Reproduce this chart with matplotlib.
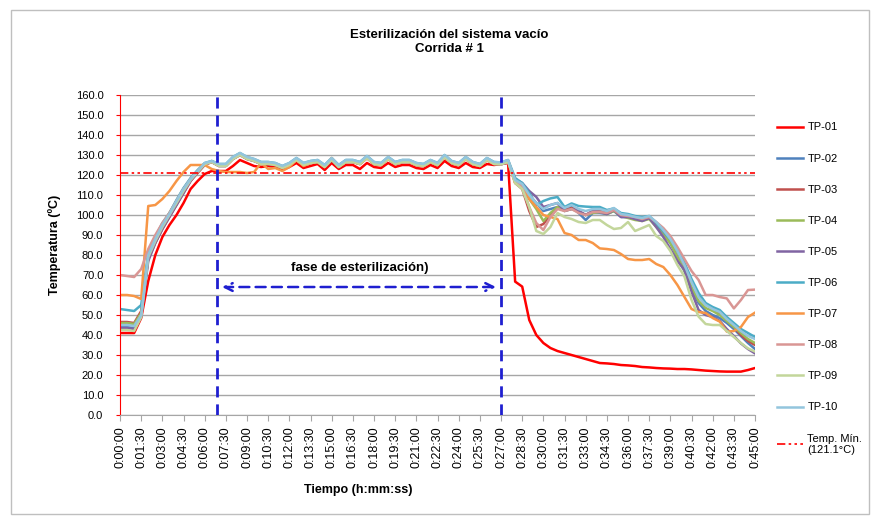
import matplotlib
matplotlib.use('Agg')
import matplotlib.pyplot as plt
import numpy as np
from matplotlib.patches import Rectangle

plt.rcParams['font.family'] = ['Liberation Sans', 'DejaVu Sans']

# tiempo de muestreo: cada 30 s, de 0:00:00 a 0:45:00
tiempo_s = np.arange(0, 2701, 30)

tick_labels = ['0:00:00', '0:01:30', '0:03:00', '0:04:30', '0:06:00', '0:07:30',
               '0:09:00', '0:10:30', '0:12:00', '0:13:30', '0:15:00', '0:16:30',
               '0:18:00', '0:19:30', '0:21:00', '0:22:30', '0:24:00', '0:25:30',
               '0:27:00', '0:28:30', '0:30:00', '0:31:30', '0:33:00', '0:34:30',
               '0:36:00', '0:37:30', '0:39:00', '0:40:30', '0:42:00', '0:43:30',
               '0:45:00']

tp01 = [41, 41, 41, 48.5, 67, 80, 89, 95, 100, 106, 113, 117, 120.5, 122,
        122, 122, 124.5, 127.5, 126, 124.5, 124, 124.5, 124, 122.5, 124, 126, 123.5, 124.5, 125.5, 122.5,
        126, 123, 125, 125, 123, 126, 124, 123.5, 126, 124, 125, 125, 123.5, 123, 125, 123.5,
        127, 124.5, 123.5, 126, 124, 123.5, 125.5, 125, 125.5, 126,
        66.7, 64.2, 47.5, 40, 36, 33.5, 32, 31, 30, 29, 28, 27, 26, 25.8, 25.5, 25, 24.8, 24.5,
        24, 23.8, 23.5, 23.3, 23.2, 23, 23, 22.8, 22.5, 22.2, 22, 21.8, 21.7, 21.7, 21.7, 22.5, 23.5]

tp02 = [44, 44, 43.5, 50, 79, 87, 94, 100, 106, 112, 117.5, 121.5, 125.5, 126.5,
        125, 125, 128.5, 130.5, 128.5, 127.5, 126, 126, 125.5, 124, 125.5, 128, 125.5, 126.5, 127, 124.5,
        128, 124.5, 127, 127, 126, 129, 126, 125.5, 128.5, 126, 127, 127, 125.5, 125, 127, 125.5,
        129.5, 126.5, 125.5, 128.5, 126, 125, 128, 126, 125.8, 127,
        117, 115, 110, 106, 102, 103, 104, 103, 104, 101, 97.5, 101, 101, 100.5, 102, 99, 99, 98,
        97.5, 98.5, 95, 91, 86, 79, 72, 63, 56, 52, 50, 48.5, 46, 43, 39.5, 36, 33]

tp03 = [46.5, 46.5, 46, 52, 78, 86, 93, 99, 105, 111, 117, 121, 125, 126.5,
        124.5, 124.5, 128, 130, 128, 127, 125.5, 125.5, 125, 123.5, 125, 127.5, 125, 126, 126.5, 124,
        127.5, 124, 126.5, 126.5, 125.5, 128.5, 125.5, 125, 128, 125.5, 126.5, 126.5, 125, 124.5, 126.5, 125,
        129, 126, 125, 128, 125.5, 124.5, 127.5, 125.5, 125.3, 126.5,
        116, 113, 102, 94, 95.5, 100, 104, 102.5, 103.5, 102, 100, 102, 102.5, 101, 103, 100, 99.5, 98.5,
        98, 99, 96, 93, 88.5, 82, 75, 67, 60, 55.5, 53, 51, 47.5, 44, 40, 37, 35]

tp04 = [46, 46, 45.5, 51, 80, 88, 95, 101, 107, 113, 118, 122, 125.5, 127,
        125, 125, 128.5, 130.5, 128.5, 127.5, 126, 126, 125.5, 124, 125.5, 128, 125.5, 126.5, 127, 124.5,
        128, 124.5, 127, 127, 126, 129, 126, 125.5, 128.5, 126, 127, 127, 125.5, 125, 127, 125.5,
        129.5, 126.5, 125.5, 128.5, 126, 125, 128, 126, 125.8, 127,
        117, 114, 108, 103, 97, 101, 104, 102, 103, 101.5, 100, 101, 101.5, 100.5, 102, 99.5, 98.5, 97.5,
        97, 98, 94, 90, 86, 79, 72, 64, 57, 53.5, 52, 50, 47, 44, 41, 38, 36]

tp05 = [43.5, 43.5, 43, 49, 77, 86, 93, 99, 105, 111, 117, 121.5, 125.5, 126.5,
        124.5, 124.5, 128, 130, 128, 127, 125.5, 125.5, 125, 123.5, 125, 127.5, 125, 126, 126.5, 124,
        127.5, 124, 126.5, 126.5, 125.5, 128.5, 125.5, 125, 128, 125.5, 126.5, 126.5, 125, 124.5, 126.5, 125,
        129, 126, 125, 128, 125.5, 124.5, 127.5, 125.5, 125.3, 126.5,
        118, 116, 112, 109, 104, 105, 106, 102, 103, 102, 100, 102, 101.5, 100.5, 102.5, 99, 99, 98,
        97, 98.5, 94, 89, 83, 77, 72.5, 61.7, 52.5, 50, 49, 47, 43, 39.5, 35.8, 33, 30.8]

tp06 = [53, 52.5, 52, 55, 81, 89, 96, 101, 107.5, 113.5, 118.5, 122.5, 126, 127,
        125.5, 125.5, 129, 131, 129, 128, 126.5, 126.5, 126, 124.5, 126, 128.5, 126, 127, 127.5, 125,
        128.5, 125, 127.5, 127.5, 126.5, 129.5, 126.5, 126, 129, 126.5, 127.5, 127.5, 126, 125.5, 127.5, 126,
        130, 127, 126, 129, 126.5, 125.5, 128.5, 126.5, 126.3, 127.5,
        118.5, 116, 111, 105, 107, 108.3, 109, 104, 105.8, 104.5, 104.2, 104, 104, 102.5, 103.3, 101, 100.5, 99.5,
        99, 99.5, 96, 92, 88, 82.5, 76, 68, 61, 56, 54, 52.5, 49, 46, 43, 41, 39]

tp07 = [60, 60, 59.5, 58, 104.5, 105, 108, 112, 117, 121.5, 125, 125, 125, 123,
        122, 121.5, 121.5, 121.5, 121, 121.5, 126, 123, 123.5, 122, 124, 127.5, 124.5, 126, 126.5, 124,
        128.5, 124, 126.5, 126.5, 125.5, 128.5, 125.5, 125, 128, 125.5, 126.5, 126.5, 125, 124.5, 126.5, 125,
        129, 126, 125, 128, 125.5, 124.5, 127.5, 125.5, 125.5, 127,
        116, 115, 108, 104, 100, 99, 98, 91, 90, 87.5, 87.5, 86, 83.3, 83, 82.5, 80.5, 78, 77.5,
        77.5, 78, 75.5, 74, 70, 65, 59, 53, 51.5, 51, 48.5, 46.7, 41.7, 42, 44, 49, 51.2]

tp08 = [70, 69.5, 69, 73, 83, 90, 96, 101, 107, 113, 118, 122, 125.5, 126.5,
        125, 125, 128.5, 130.5, 128.5, 127.5, 126, 126, 125.5, 124, 125.5, 128, 125.5, 126.5, 127, 124.5,
        128, 124.5, 127, 127, 126, 129, 126, 125.5, 128.5, 126, 127, 127, 125.5, 125, 127, 125.5,
        129.5, 126.5, 125.5, 128.5, 126, 125, 128, 126, 125.8, 127,
        117, 114, 104, 96, 92.5, 99, 103, 102, 103, 101, 100, 101.5, 101.5, 101, 102.5, 100, 99.5, 99,
        98, 99, 96.5, 93.5, 89.5, 84, 78, 72, 67.5, 60, 60, 59, 58.3, 53.3, 57.5, 62.5, 62.7]

tp09 = [42.5, 42.5, 42, 49, 79, 87, 94, 100, 106, 112, 117.5, 121.5, 125.5, 126.5,
        124.5, 124.5, 128, 130, 128, 127, 125.5, 125.5, 125, 123.5, 125, 127.5, 125, 126, 126.5, 124,
        127.5, 124, 126.5, 126.5, 125.5, 128.5, 125.5, 125, 128, 125.5, 126.5, 126.5, 125, 124.5, 126.5, 125,
        129, 126, 125, 128, 125.5, 124.5, 127.5, 125.5, 125.3, 126.5,
        116, 113, 104, 92, 90.5, 94, 101, 99, 98, 96.5, 96, 97.5, 97.5, 95, 93, 93.5, 96.5, 92,
        93.5, 95, 89.5, 87, 82, 75, 69.2, 57.5, 49.2, 45.5, 45, 45, 42, 39, 36, 33.3, 31.7]

tp10 = [45, 45, 44.5, 50, 80, 88, 95, 100.5, 107, 113, 118, 122, 126, 127,
        125.5, 125.5, 129, 131, 129, 128, 126.5, 126.5, 126, 124.5, 126, 128.5, 126, 127, 127.5, 125,
        128.5, 125, 127.5, 127.5, 126.5, 129.5, 126.5, 126, 129, 126.5, 127.5, 127.5, 126, 125.5, 127.5, 126,
        130, 127, 126, 129, 126.5, 125.5, 128.5, 126.5, 126.3, 127.5,
        117.5, 115.5, 110, 106, 103, 105, 106, 103.5, 105, 103, 102, 103, 103, 102, 103.5, 100.5, 100, 99,
        98.5, 99.5, 96.5, 92.5, 88, 82, 75, 66.5, 59, 55, 53, 51.5, 48, 45, 42, 39.5, 38]

nombres = ['TP-01', 'TP-02', 'TP-03', 'TP-04', 'TP-05',
           'TP-06', 'TP-07', 'TP-08', 'TP-09', 'TP-10']
series = [tp01, tp02, tp03, tp04, tp05, tp06, tp07, tp08, tp09, tp10]
colores = ['#FF0000', '#4F81BD', '#C0504D', '#9BBB59', '#8064A2',
           '#4BACC6', '#F79646', '#D99694', '#C3D69B', '#93C5DD']

temp_min = 121.1
inicio_fase = 412    # s
fin_fase = 1620      # s

fig = plt.figure(figsize=(8.8, 5.18), dpi=100)
ax = fig.add_axes([0.1364, 0.1988, 0.7216, 0.6178])

for nombre, y, c in zip(nombres, series, colores):
    ax.plot(tiempo_s, y, color=c, lw=1.8, label=nombre, solid_joinstyle='round')

ax.axhline(temp_min, color='red', lw=1.2, ls=(0, (5, 2, 1.5, 2, 1.5, 2)),
           label='Temp. Mín.\n(121.1°C)')

for xv in (inicio_fase, fin_fase):
    ax.axvline(xv, color='#1F1FD0', lw=2, ls=(0, (4, 2.5)), zorder=5)

ax.annotate('', xy=(inicio_fase + 10, 64), xytext=(fin_fase - 10, 64),
            arrowprops=dict(arrowstyle='<->', color='#1F1FD0', lw=1.8,
                            ls=(0, (4, 2.5)), mutation_scale=14))
ax.text(1020, 73.5, 'fase de esterilización)', ha='center', va='center',
        fontsize=9.5, fontweight='bold')

ax.set_xlim(0, 2700)
ax.set_ylim(0, 160)
ax.set_yticks(np.arange(0, 161, 10))
ax.set_yticklabels(['%.1f' % v for v in np.arange(0, 161, 10)], fontsize=8)
ax.set_xticks(tiempo_s[::3])
ax.set_xticklabels(tick_labels, rotation=90, fontsize=9)
ax.yaxis.grid(True, color='#A6A6A6', lw=1)
ax.set_axisbelow(True)
for s in ('top', 'right'):
    ax.spines[s].set_visible(False)
ax.spines['left'].set_color('red')
ax.spines['bottom'].set_color('#A6A6A6')
ax.tick_params(axis='y', length=3, color='red', pad=9)
ax.tick_params(axis='x', length=4, color='#A6A6A6', pad=4)

fig.text(0.511, 0.919, 'Esterilización del sistema vacío\nCorrida # 1',
         ha='center', va='center', fontsize=9.5, fontweight='bold', linespacing=1.3)
fig.text(0.0625, 0.527, 'Temperatura (ºC)', rotation=90, ha='center', va='center',
         fontsize=9, fontweight='bold')
fig.text(0.407, 0.054, 'Tiempo (h:mm:ss)', ha='center', va='center',
         fontsize=9, fontweight='bold')

fig.legend(loc='upper left', bbox_to_anchor=(0.872, 0.783), frameon=False,
           fontsize=8, handlelength=2.3, labelspacing=1.9, handletextpad=0.4)

fig.patches.append(Rectangle((0.012, 0.008), 0.975, 0.972, transform=fig.transFigure,
                             fill=False, edgecolor='#BFBFBF', lw=1))

fig.savefig('out.png', dpi=100)
